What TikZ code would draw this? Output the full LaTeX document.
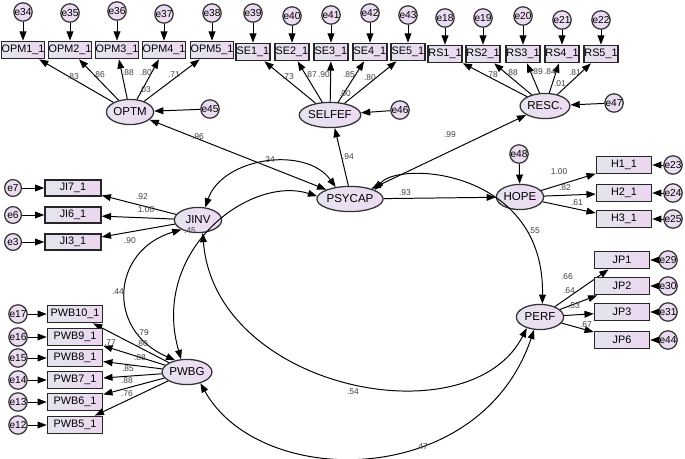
\documentclass[tikz,border=0pt]{standalone}
\usepackage{fontspec}
\setmainfont{Liberation Sans}
\usetikzlibrary{arrows.meta,shapes.geometric}
\definecolor{boxleft}{HTML}{E3E5EE}
\definecolor{boxright}{HTML}{ECD6EF}
\definecolor{latleft}{HTML}{E6E3F0}
\definecolor{latright}{HTML}{EDDAF1}
\definecolor{errfill}{HTML}{ECDCF1}
\begin{document}
\begin{tikzpicture}[x=0.025cm,y=-0.025cm,
  >={Triangle[length=2.3mm,width=1.7mm]},
  obs/.style={draw=black!85,line width=1.1pt,left color=boxleft,right color=boxright,
    minimum width=#1,minimum height=0.43cm,inner sep=0pt,font=\fontsize{7.7}{8}\selectfont},
  obs/.default=1.375cm,
  lat/.style={ellipse,draw=black!80,line width=0.9pt,left color=latleft,right color=latright,
    minimum width=1.18cm,minimum height=0.63cm,inner sep=0pt,font=\fontsize{8.2}{9}\selectfont},
  err/.style={circle,draw=black!80,line width=0.9pt,fill=errfill,minimum size=0.46cm,
    inner sep=0pt,font=\fontsize{7.2}{8}\selectfont},
  coef/.style={font=\fontsize{6}{7}\selectfont,text=black!75,inner sep=0pt},
  reg/.style={->,line width=0.7pt},
  cov/.style={<->,line width=0.7pt}]
\useasboundingbox (0,0) rectangle (685,459);

% latent variables
\node[lat] (optm) at (130,112) {OPTM};
\node[lat] (selfef) at (330,115) {SELFEF};
\node[lat] (resc) at (545,106) {RESC.};
\node[lat] (psycap) at (350,199) {PSYCAP};
\node[lat] (hope) at (520,197) {HOPE};
\node[lat] (jinv) at (198,220) {JINV};
\node[lat] (pwbg) at (187,372) {PWBG};
\node[lat] (perf) at (540,317) {PERF};

% indicators, top row
\foreach \i/\x/\e/\ey in {1/23/34/12,2/70/35/13,3/117/36/11,4/164/37/14,5/212/38/13}{
  \node[obs=1.075cm] (opm\i) at (\x,50) {OPM\i\_1};
  \node[err] (e\e) at (\x,\ey) {e\e};
  \draw[reg] (e\e) -- (opm\i);
  \draw[reg] (optm) -- (opm\i);
}
\foreach \i/\x/\e/\ey in {1/253/39/13,2/292/40/16,3/331/41/15,4/370/42/13,5/408/43/15}{
  \node[obs=0.85cm] (se\i) at (\x,52) {SE\i\_1};
  \node[err] (e\e) at (\x,\ey) {e\e};
  \draw[reg] (e\e) -- (se\i);
  \draw[reg] (selfef) -- (se\i);
}
\foreach \i/\x/\e/\ey in {1/445/18/18,2/483/19/18,3/523/20/16,4/562/21/20,5/601/22/20}{
  \node[obs=0.85cm] (rs\i) at (\x,54) {RS\i\_1};
  \node[err] (e\e) at (\x,\ey) {e\e};
  \draw[reg] (e\e) -- (rs\i);
  \draw[reg] (resc) -- (rs\i);
}

% indicators, right side
\foreach \i/\y/\e in {1/165/23,2/193/24,3/219/25}{
  \node[obs] (h\i) at (624,\y) {H\i\_1};
  \node[err] (e\e) at (673,\y) {e\e};
  \draw[reg] (e\e) -- (h\i);
  \draw[reg] (hope) -- (h\i);
}
\foreach \i/\y/\e in {1/260/29,2/286/30,3/312/31,6/340/44}{
  \node[obs] (jp\i) at (622,\y) {JP\i};
  \node[err] (e\e) at (668,\y) {e\e};
  \draw[reg] (e\e) -- (jp\i);
  \draw[reg] (perf) -- (jp\i);
}

% indicators, left side
\foreach \i/\y/\e in {7/188/7,6/215/6,3/242/3}{
  \node[obs=1.4cm,minimum height=0.4cm] (ji\i) at (73,\y) {JI\i\_1};
  \node[err,minimum size=0.42cm] (e\e) at (13,\y) {e\e};
  \draw[reg] (e\e) -- (ji\i);
  \draw[reg] (jinv) -- (ji\i);
}
\foreach \i/\y/\e in {10/314/17,9/337/16,8/358/15,7/380/14,6/402/13,5/425/12}{
  \node[obs] (pwb\i) at (75,\y) {PWB\i\_1};
  \node[err] (e\e) at (18,\y) {e\e};
  \draw[reg] (e\e) -- (pwb\i);
  \draw[reg] (pwbg) -- (pwb\i);
}

% residuals of first-order factors
\node[err] (e45) at (210,109) {e45};
\node[err] (e46) at (400,110) {e46};
\node[err] (e47) at (614,103) {e47};
\node[err] (e48) at (519,154) {e48};
\draw[reg] (e45) -- (optm);
\draw[reg] (e46) -- (selfef);
\draw[reg] (e47) -- (resc);
\draw[reg] (e48) -- (hope);

% structural part
\draw[cov] (optm) -- (psycap);
\draw[reg] (psycap.97) -- (selfef.290);
\draw[cov] (resc) -- (psycap);
\draw[reg] (psycap) -- (hope);
\draw[cov] (jinv.60) .. controls (222,158) and (305,145) .. (psycap.140);
\draw[cov] (psycap.175) .. controls (250,175) and (150,250) .. (pwbg.115);
\draw[cov] (jinv.210) .. controls (112,250) and (105,330) .. (pwbg.135);
\draw[cov] (jinv.290) .. controls (215,390) and (470,440) .. (perf.220);
\draw[cov] (pwbg.320) .. controls (260,490) and (480,490) .. (perf.245);
\draw[cov] (psycap.20) .. controls (400,160) and (545,170) .. (perf.80);

% coefficients
\foreach \t/\x/\y in {.83/73/77,.86/99/75,.88/128/73,.80/146/73,.71/174/75,.03/145/90,
  .73/288/77,.87/311/75,.90/324/75,.85/349/75,.80/370/78,.00/345/94,
  .78/492/75,.88/512/73,.89/537/72,.84/550/72,.81/575/73,.01/560/84,
  .96/198/137,.94/348/157,.99/450/135,.93/405/193,.34/269/160,
  1.00/559/172,.82/565/188,.61/577/203,.55/534/231,
  .66/567/277,.64/569/291,.53/574/306,.67/586/325,
  .92/142/197,1.00/146/210,.90/130/241,.45/190/231,.44/118/292,
  .79/143/333,.77/110/343,.80/142/344,.88/140/358,.85/128/369,.88/127/381,.76/127/394,
  .54/353/392,.47/422/447}{
  \node[coef] at (\x,\y) {\t};
}
\end{tikzpicture}
\end{document}
